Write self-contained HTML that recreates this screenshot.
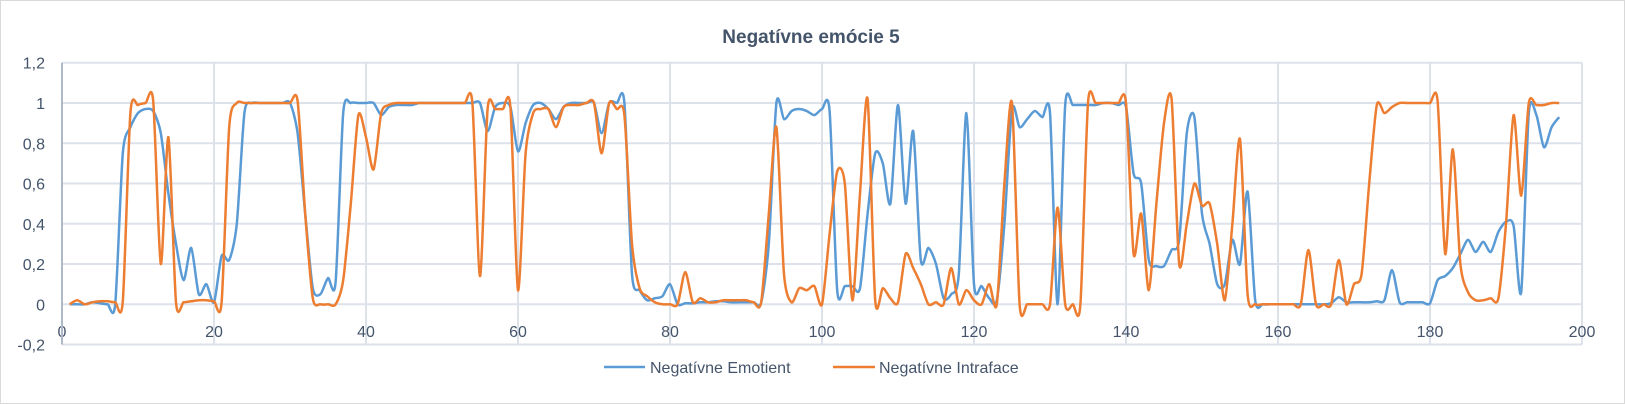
<!DOCTYPE html>
<html><head><meta charset="utf-8"><style>
html,body{margin:0;padding:0;background:#fff}
svg{display:block}
text{font-family:"Liberation Sans",sans-serif}
</style></head><body>
<svg id="chart" width="1625" height="404">
<rect x="0.5" y="0.5" width="1624" height="403" fill="#fff" stroke="#d9d9d9"/>
<text x="811" y="43" text-anchor="middle" font-size="19" font-weight="bold" fill="#44546a">Negatívne emócie 5</text>
<g id="grid"></g>
<g id="axes"></g>
<g id="series"></g>
<g>
<g>
<line x1="604" y1="367" x2="645" y2="367" stroke="#5b9bd5" stroke-width="2.5"/>
<text x="650" y="373" font-size="16" fill="#44546a">Negatívne Emotient</text></g>
<g>
<line x1="833" y1="367" x2="875" y2="367" stroke="#ed7d31" stroke-width="2.5"/>
<text x="879" y="373" font-size="16" fill="#44546a">Negatívne Intraface</text></g>
</g>
</svg>
<script>
const xTicks=[0,20,40,60,80,100,120,140,160,180,200];
const yTicks=[-0.2,0,0.2,0.4,0.6,0.8,1,1.2];
const yTickLabels=["-0,2","0","0,2","0,4","0,6","0,8","1","1,2"];
const emotient=[
0,0,0,0.01,0.005,0,0,0.75,0.88,0.95,
0.97,0.96,0.85,0.55,0.3,0.12,0.28,0.05,0.1,0.01,
0.24,0.22,0.4,0.95,1,1,1,1,1,1,
0.85,0.45,0.08,0.05,0.13,0.11,0.95,1,1,1,
1,0.94,0.98,0.99,0.99,0.99,1,1,1,1,
1,1,1,1,1,0.86,0.98,1,0.98,0.76,
0.9,0.99,1,0.97,0.92,0.98,1,1,1,1,
0.85,1,1,1,0.15,0.07,0.02,0.03,0.04,0.1,
0,0.005,0.005,0.01,0.01,0.015,0.015,0.01,0.01,0.01,
0.01,0.01,0.3,1,0.92,0.96,0.97,0.96,0.94,0.97,
0.96,0.07,0.09,0.09,0.08,0.45,0.75,0.7,0.5,0.99,
0.5,0.86,0.22,0.28,0.2,0.03,0.05,0.15,0.95,0.1,
0.09,0.03,0.02,0.4,0.97,0.88,0.92,0.96,0.93,0.95,
0,0.99,0.99,0.99,0.99,0.99,1,1,0.99,0.98,
0.65,0.6,0.22,0.19,0.19,0.27,0.32,0.85,0.93,0.45,
0.3,0.1,0.1,0.32,0.2,0.56,0.02,0,0,0,
0,0,0,0,0,0,0.005,0.035,0.01,0.01,
0.01,0.01,0.015,0.02,0.17,0.01,0.01,0.01,0.01,0.005,
0.12,0.14,0.18,0.25,0.32,0.26,0.31,0.26,0.36,0.41,
0.39,0.06,0.95,0.94,0.78,0.88,0.93];
const intraface=[
0,0.02,0,0.01,0.015,0.015,0.01,0.015,0.95,0.99,
1,1.01,0.2,0.83,0.01,0.01,0.015,0.02,0.02,0.015,
0.01,0.88,1,1,1,1,1,1,1,1,
1.01,0.45,0.03,0,0,0,0.12,0.5,0.94,0.83,
0.67,0.95,0.99,1,1,1,1,1,1,1,
1,1,1,1,0.14,0.97,0.97,0.97,0.98,0.07,
0.75,0.95,0.97,0.97,0.88,0.98,0.99,0.99,1,1,
0.75,1,0.97,0.94,0.3,0.08,0.04,0.01,0,0,
0,0.16,0.01,0.03,0.01,0.01,0.02,0.02,0.02,0.02,
0.01,0.01,0.45,0.88,0.15,0.01,0.08,0.07,0.09,0,
0.35,0.66,0.6,0.02,0.55,1.02,0.02,0.08,0.03,0.01,
0.25,0.18,0.1,0,0.01,0,0.18,0,0.07,0.02,
0,0.1,0,0.6,1,0,0,0,0,0,
0.48,0,0,0,1,1,1,1,1,1,
0.25,0.45,0.07,0.5,0.9,1.02,0.2,0.4,0.6,0.49,
0.5,0.3,0.02,0.4,0.82,0.05,0,0,0,0,
0,0,0,0.27,0,0,0,0.22,0,0.1,
0.15,0.6,0.99,0.95,0.98,1,1,1,1,1,
1.01,0.25,0.77,0.2,0.06,0.02,0.02,0.03,0.03,0.4,
0.94,0.54,1,0.99,0.99,1,1];

const NS="http://www.w3.org/2000/svg";
const X0=62,X1=1582,Y0=304.3,PPU=201.3;
function xs(v){return X0+(v-0)/200*(X1-X0);}
function ys(v){return Y0-v*PPU;}
function mk(tag,attrs,parent){const e=document.createElementNS(NS,tag);for(const k in attrs)e.setAttribute(k,attrs[k]);parent.appendChild(e);return e;}
const grid=document.getElementById('grid'),axes=document.getElementById('axes'),series=document.getElementById('series');
yTicks.forEach((t,i)=>{
  const l=mk('line',{x1:X0,x2:X1,y1:ys(t),y2:ys(t),stroke:'#dde2ea','stroke-width':2},grid);
  
  
  const tx=mk('text',{x:45,y:ys(t)+6,'text-anchor':'end','font-size':16,fill:'#44546a'},axes);
  tx.textContent=yTickLabels[i];
  
  
});
xTicks.forEach(t=>{
  const l=mk('line',{x1:xs(t),x2:xs(t),y1:ys(1.2),y2:ys(-0.2),stroke:'#dde2ea','stroke-width':2},grid);
  
  
  const tx=mk('text',{x:xs(t),y:337,'text-anchor':'middle','font-size':16,fill:'#44546a'},axes);
  tx.textContent=String(t);
  
  
});
const ya=mk('line',{x1:X0,x2:X0,y1:ys(1.2),y2:ys(-0.2),stroke:'#adb8c8','stroke-width':2},axes);


function pathFor(arr){
  const p=arr.map((v,i)=>[xs(i+1),ys(v)]);
  let d='M'+p[0][0].toFixed(2)+','+p[0][1].toFixed(2);
  for(let i=0;i<p.length-1;i++){
    const a=p[Math.max(0,i-1)],b=p[i],c=p[i+1],e=p[Math.min(p.length-1,i+2)];
    const t=0.13;
    d+=' C'+(b[0]+(c[0]-a[0])*t).toFixed(2)+','+(b[1]+(c[1]-a[1])*t).toFixed(2)+' '+(c[0]-(e[0]-b[0])*t).toFixed(2)+','+(c[1]-(e[1]-b[1])*t).toFixed(2)+' '+c[0].toFixed(2)+','+c[1].toFixed(2);
  }
  return d;
}
const pb=mk('path',{d:pathFor(emotient),fill:'none',stroke:'#5b9bd5','stroke-width':2.5,'stroke-linejoin':'round'},series);


const po=mk('path',{d:pathFor(intraface),fill:'none',stroke:'#ed7d31','stroke-width':2.5,'stroke-linejoin':'round'},series);


</script>
</body></html>
